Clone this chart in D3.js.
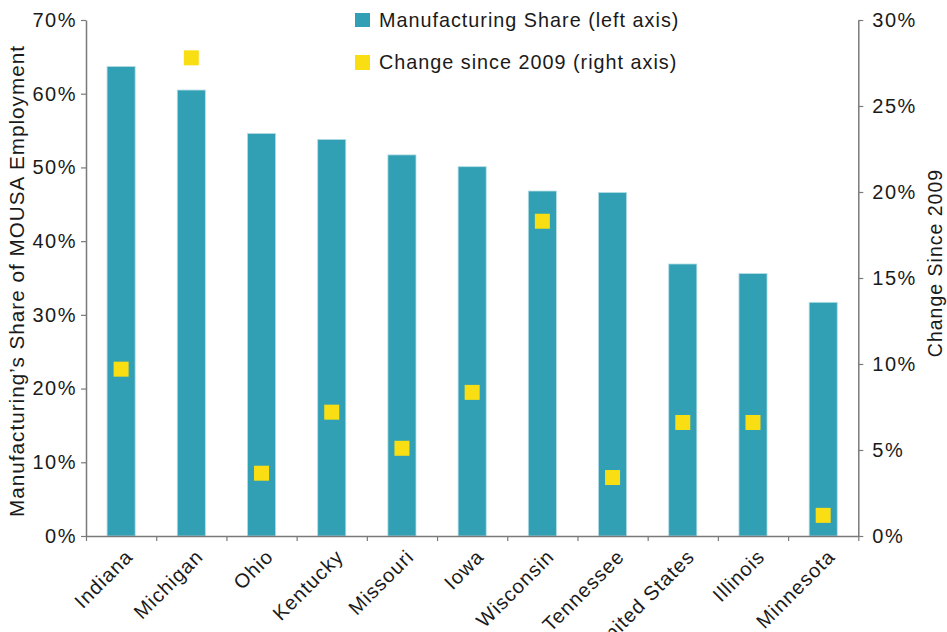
<!DOCTYPE html>
<html><head><meta charset="utf-8">
<script src="https://cdn.jsdelivr.net/npm/d3@7"></script>
<style>
body{margin:0;background:#fff;}
text{font-family:"Liberation Sans",Arial,sans-serif;fill:#1a1a1a;letter-spacing:1px;}
</style></head>
<body><svg id="c" width="947" height="632"></svg>
<script>
const states = ["Indiana","Michigan","Ohio","Kentucky","Missouri","Iowa","Wisconsin","Tennessee","United States","Illinois","Minnesota"];
const mfgShare = [63.7,60.5,54.6,53.8,51.7,50.1,46.8,46.6,36.9,35.6,31.7];
const change2009 = [9.7,27.8,3.65,7.2,5.1,8.35,18.3,3.4,6.6,6.6,1.2];
const leftTicks = [0,10,20,30,40,50,60,70];
const rightTicks = [0,5,10,15,20,25,30];
const legendLabels = ["Manufacturing Share (left axis)","Change since 2009 (right axis)"];

const svg = d3.select("#c");
const L = 86, R = 858.3, T = 20, B = 536;
const teal = "#31A0B4", yellow = "#F9DE14", axisCol = "#7a7a7a";

const x = d3.scaleBand().domain(states).range([L,R]).paddingInner(0.6).paddingOuter(0.3);
const yL = d3.scaleLinear().domain([0,70]).range([B,T]);
const yR = d3.scaleLinear().domain([0,30]).range([B,T]);
const xb = d3.scaleLinear().domain([0,states.length]).range([L,R]);

// bars
svg.append("g").selectAll("rect").data(states).join("rect")
  .attr("x", d=>x(d)).attr("width", x.bandwidth())
  .attr("y", (d,i)=>yL(mfgShare[i])).attr("height",(d,i)=>B-yL(mfgShare[i]))
  .attr("fill", teal).attr("stroke","#b5dde5").attr("stroke-width",0.8);

// squares
const s = 15;
svg.append("g").selectAll("rect").data(states).join("rect")
  .attr("x", d=>x(d)+x.bandwidth()/2-s/2).attr("width", s)
  .attr("y", (d,i)=>yR(change2009[i])-s/2).attr("height", s)
  .attr("fill", yellow);

function styleAxis(g){
  g.select(".domain").attr("stroke",axisCol).attr("stroke-width",1.5);
  g.selectAll(".tick line").attr("stroke",axisCol).attr("stroke-width",1.2);
  g.selectAll(".tick text").style("font-size","20px").style("letter-spacing","1.5px").style("fill","#1a1a1a");
}

// left axis
svg.append("g").attr("transform",`translate(${L},0)`)
  .call(d3.axisLeft(yL).tickValues(leftTicks).tickFormat(d=>d+"%").tickSize(5).tickSizeOuter(0).tickPadding(4))
  .call(styleAxis);
// right axis
svg.append("g").attr("transform",`translate(${R},0)`)
  .call(d3.axisRight(yR).tickValues(rightTicks).tickFormat(d=>d+"%").tickSize(5).tickSizeOuter(0).tickPadding(9))
  .call(styleAxis);
// bottom boundary ticks
svg.append("g").attr("transform",`translate(0,${B})`)
  .call(d3.axisBottom(xb).tickValues(d3.range(states.length+1)).tickFormat("").tickSize(5).tickSizeOuter(0))
  .call(styleAxis);
// category labels
svg.append("g").selectAll("text").data(states).join("text")
  .attr("transform", d=>`translate(${x(d)+x.bandwidth()/2+3},${B+12}) rotate(-45)`)
  .attr("text-anchor","end").attr("dy","0.71em")
  .style("font-size","20px").text(d=>d);

// axis titles
svg.append("text").attr("transform",`translate(24,281) rotate(-90)`)
  .attr("text-anchor","middle").style("font-size","20.7px")
  .text("Manufacturing\u2019s Share of MOUSA Employment");
svg.append("text").attr("transform",`translate(942,263) rotate(-90)`)
  .attr("text-anchor","middle").style("font-size","19.5px")
  .text("Change Since 2009");

// legend
const lg = svg.append("g");
lg.append("rect").attr("x",355).attr("y",13).attr("width",15).attr("height",14).attr("fill",teal);
lg.append("rect").attr("x",355).attr("y",55).attr("width",15).attr("height",15).attr("fill",yellow);
lg.selectAll("text.l").data(legendLabels).join("text").attr("class","l")
  .attr("x",379).attr("y",(d,i)=>i?69:27).style("font-size","19.8px").text(d=>d);
</script></body></html>
